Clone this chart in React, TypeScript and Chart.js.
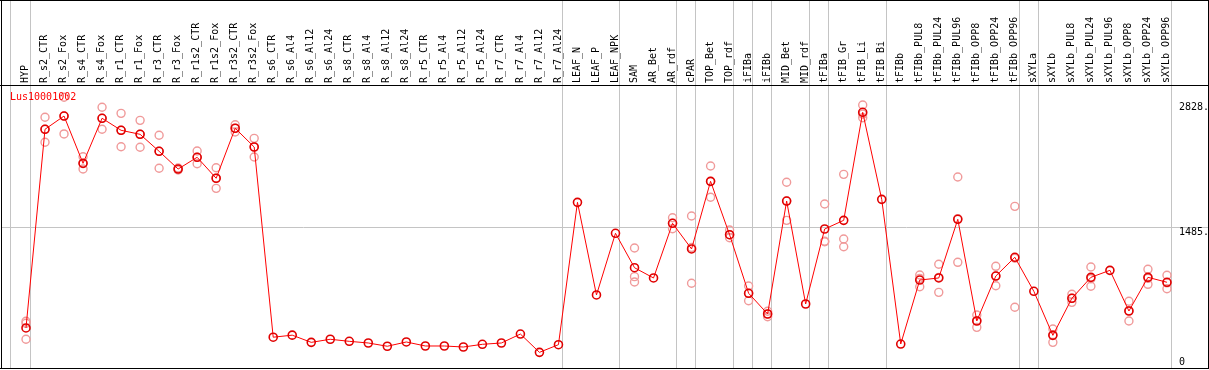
import React, { useEffect, useRef } from 'react';
import { Chart, registerables } from 'chart.js';

Chart.register(...registerables);

const geneName = 'Lus10001002';

const categories = [
  'HYP',
  'R_s2_CTR', 'R_s2_Fox', 'R_s4_CTR', 'R_s4_Fox', 'R_r1_CTR', 'R_r1_Fox', 'R_r3_CTR', 'R_r3_Fox',
  'R_r1s2_CTR', 'R_r1s2_Fox', 'R_r3s2_CTR', 'R_r3s2_Fox',
  'R_s6_CTR', 'R_s6_Al4', 'R_s6_Al12', 'R_s6_Al24',
  'R_s8_CTR', 'R_s8_Al4', 'R_s8_Al12', 'R_s8_Al24',
  'R_r5_CTR', 'R_r5_Al4', 'R_r5_Al12', 'R_r5_Al24',
  'R_r7_CTR', 'R_r7_Al4', 'R_r7_Al12', 'R_r7_Al24',
  'LEAF_N', 'LEAF_P', 'LEAF_NPK',
  'SAM', 'AR_Bet', 'AR_rdf',
  'cPAR',
  'TOP_Bet', 'TOP_rdf',
  'iFIBa',
  'iFIBb',
  'MID_Bet', 'MID_rdf',
  'tFIBa',
  'tFIB_Gr', 'tFIB_Li', 'tFIB_Bi',
  'tFIBb', 'tFIBb_PUL8', 'tFIBb_PUL24', 'tFIBb_PUL96', 'tFIBb_OPP8', 'tFIBb_OPP24', 'tFIBb_OPP96',
  'sXYLa',
  'sXYLb', 'sXYLb_PUL8', 'sXYLb_PUL24', 'sXYLb_PUL96', 'sXYLb_OPP8', 'sXYLb_OPP24', 'sXYLb_OPP96',
];

// index of the last category of each group (group separators)
const groupEnds = [0, 28, 31, 34, 35, 37, 38, 39, 41, 42, 45, 52, 53, 60];

const means = [
  413,
  2543, 2685, 2178, 2661, 2532, 2489, 2307, 2117,
  2243, 2018, 2554, 2353,
  314, 336, 259, 292,
  270, 252, 217, 263,
  220, 220, 209, 238,
  252, 348, 152, 234,
  1760, 767, 1428,
  1059, 949, 1535,
  1260,
  1985, 1413,
  785,
  563,
  1774, 670,
  1474,
  1567, 2725, 1792,
  241, 927, 949, 1578, 488, 970, 1171,
  806,
  334, 731, 956, 1031, 595, 956, 903,
];

const N = null;
const rep1 = [
  485,
  2672, 2886, 2249, 2779, 2714, 2639, 2479, 2107,
  2310, 2131, 2592, 2446,
  N, N, N, N, N, N, N, N, N, N, N, N, N, N, N, N,
  N, N, N,
  1270, N, 1595,
  1613,
  2149, 1463,
  863,
  534,
  1975, N,
  1742,
  2060, 2803, N,
  N, 981, 1096, 2032, 552, 1074, 1717,
  N,
  402, 774, 1067, N, 699, 1042, 978,
];
const rep2 = [
  463,
  2404, 2493, 2117, 2543, 2356, 2350, 2125, 2128,
  2174, 1910, 2514, 2246,
  N, N, N, N, N, N, N, N, N, N, N, N, N, N, N, N,
  N, N, N,
  963, N, 1477,
  892,
  1814, 1381,
  705,
  563,
  1567, N,
  1338,
  1367, 2667, N,
  N, 855, 795, 1117, 420, 866, 635,
  N,
  259, 688, 860, N, 488, 881, 834,
];
const rep3 = [
  292,
  2543, 2685, 2178, 2661, 2532, 2489, 2307, 2117,
  2243, 2018, 2554, 2353,
  N, N, N, N, N, N, N, N, N, N, N, N, N, N, N, N,
  N, N, N,
  906, N, 1535,
  1275,
  1985, 1413,
  785,
  592,
  1774, N,
  1342,
  1284, 2705, N,
  N, 945, 956, 1585, 492, 970, 1161,
  N,
  341, 731, 941, N, 598, 945, 897,
];

const yTicks = [0, 1485, 2828];

const FONT = '"DejaVu Sans Mono", "Liberation Mono", monospace';

const noPadding = (s: any) => {
  s.paddingTop = 0;
  s.paddingBottom = 0;
  s.paddingLeft = 0;
  s.paddingRight = 0;
};

export default function App() {
  const ref = useRef<HTMLCanvasElement>(null);

  useEffect(() => {
    const canvas = ref.current;
    if (!canvas) return;

    const repPoints: { x: number; y: number }[] = [];
    [rep1, rep2, rep3].forEach((arr) =>
      arr.forEach((v, i) => {
        if (v !== null) repPoints.push({ x: i, y: v as number });
      })
    );

    const framePlugin = {
      id: 'frameAndSeparators',
      beforeDatasetsDraw(chart: any) {
        const ctx = chart.ctx;
        const xs = chart.scales.x;
        ctx.save();
        ctx.fillStyle = '#c4c4c4';
        const bounds = [-0.82, ...groupEnds.map((k) => k + 0.2)];
        bounds.forEach((b) => {
          const px = Math.round(xs.getPixelForValue(b));
          ctx.fillRect(px, 0, 1, 369);
        });
        ctx.restore();
      },
      afterDraw(chart: any) {
        const ctx = chart.ctx;
        ctx.save();
        ctx.fillStyle = '#000000';
        ctx.fillRect(0, 0, 1209, 1);
        ctx.fillRect(0, 85, 1209, 1);
        ctx.fillRect(0, 368, 1209, 1);
        ctx.fillRect(1, 0, 1, 369);
        ctx.fillRect(1208, 0, 1, 369);
        ctx.fillStyle = '#ff0000';
        ctx.font = `10px ${FONT}`;
        ctx.textBaseline = 'middle';
        ctx.textAlign = 'left';
        ctx.fillText(geneName, 10, 97);
        ctx.restore();
      },
    };

    const chart = new Chart(canvas, {
      type: 'line',
      data: {
        datasets: [
          {
            label: 'mean',
            data: means.map((v, i) => ({ x: i, y: v })),
            borderColor: '#ff0000',
            borderWidth: 1,
            pointRadius: 4,
            pointBorderWidth: 1.6,
            pointBorderColor: '#e00000',
            pointBackgroundColor: 'rgba(0,0,0,0)',
            tension: 0,
            fill: false,
          },
          {
            label: 'replicates',
            data: repPoints,
            showLine: false,
            pointRadius: 4,
            pointBorderWidth: 1.4,
            pointBorderColor: '#f09a9a',
            pointBackgroundColor: 'rgba(0,0,0,0)',
          },
        ],
      },
      options: {
        responsive: false,
        animation: false,
        devicePixelRatio: 1,
        layout: { autoPadding: false, padding: { left: 2, right: 1, top: 0, bottom: 2 } },
        plugins: {
          legend: { display: false },
          tooltip: { enabled: false },
          title: { display: false },
        },
        scales: {
          x: {
            type: 'linear',
            position: 'top',
            min: -1.262,
            max: 62.158,
            afterBuildTicks: (s: any) => {
              s.ticks = categories.map((_, i) => ({ value: i }));
            },
            afterFit: (s: any) => {
              s.height = 86;
              noPadding(s);
            },
            grid: { display: false, drawTicks: false },
            border: { display: false },
            ticks: {
              autoSkip: false,
              minRotation: 90,
              maxRotation: 90,
              padding: 3,
              labelOffset: 11.5,
              color: '#000000',
              font: { family: FONT, size: 10 },
              callback: (v: any) => categories[v] ?? '',
            },
          },
          y: {
            type: 'linear',
            position: 'right',
            min: -16,
            max: 3007,
            afterBuildTicks: (s: any) => {
              s.ticks = yTicks.map((v) => ({ value: v }));
            },
            afterFit: (s: any) => {
              s.width = 0;
              noPadding(s);
            },
            grid: {
              color: (c: any) => (c.tick && c.tick.value === 1485 ? '#c4c4c4' : 'rgba(0,0,0,0)'),
              drawTicks: false,
              lineWidth: 1,
            },
            border: { display: false },
            ticks: {
              mirror: true,
              crossAlign: 'far',
              padding: 1,
              color: '#000000',
              font: { family: FONT, size: 10, lineHeight: 0.9 },
              callback: (v: any) => (v === 0 ? ['0', ''] : ['', `${v}.`]),
            },
          },
        },
      },
      plugins: [framePlugin],
    } as any);

    return () => {
      chart.destroy();
    };
  }, []);

  return (
    <div style={{ position: 'absolute', left: 0, top: 0, width: 1209, height: 370, background: '#ffffff' }}>
      <canvas ref={ref} width={1209} height={370} style={{ display: 'block' }} />
    </div>
  );
}
